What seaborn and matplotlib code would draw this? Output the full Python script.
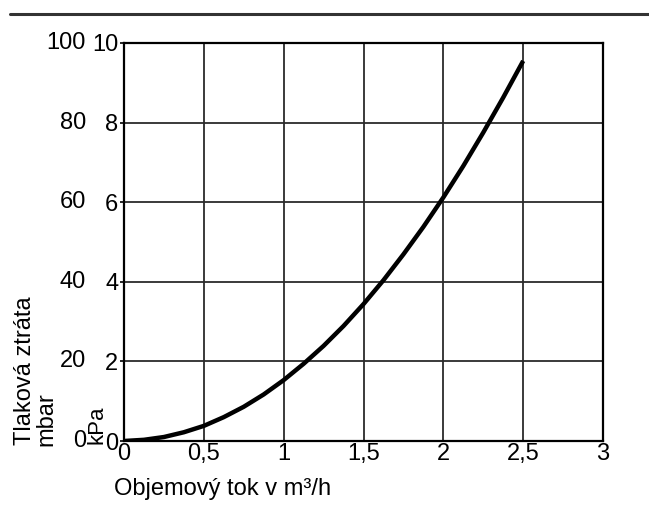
import matplotlib
matplotlib.use("Agg")
import matplotlib.pyplot as plt
from matplotlib.lines import Line2D
import seaborn as sns
import pandas as pd

# Pressure loss curve (kPa) versus volume flow (m³/h)
flow = [0.0, 0.125, 0.25, 0.375, 0.5, 0.625, 0.75, 0.875, 1.0, 1.125, 1.25,
        1.375, 1.5, 1.625, 1.75, 1.875, 2.0, 2.125, 2.25, 2.375, 2.5]
loss_kpa = [0.0, 0.03, 0.1, 0.22, 0.38, 0.6, 0.86, 1.17, 1.53, 1.94, 2.39,
            2.89, 3.44, 4.04, 4.69, 5.38, 6.12, 6.91, 7.75, 8.63, 9.55]

x_ticks = [0, 0.5, 1, 1.5, 2, 2.5, 3]
x_labels = ["0", "0,5", "1", "1,5", "2", "2,5", "3"]
kpa_ticks = [0, 2, 4, 6, 8, 10]
mbar_labels = ["0", "20", "40", "60", "80", "100"]

df = pd.DataFrame({"flow": flow, "loss": loss_kpa})

sns.set_theme(style="white")
plt.rcParams["font.family"] = ["Liberation Sans", "DejaVu Sans"]

FS = 17
W, H = 649, 518
fig = plt.figure(figsize=(W / 100, H / 100), dpi=100)
ax = fig.add_axes([124 / W, 1 - 441 / H, (603 - 124) / W, (441 - 43) / H])

sns.lineplot(data=df, x="flow", y="loss", ax=ax, color="black", lw=3.2,
             solid_capstyle="butt")

ax.set_xlim(0, 3)
ax.set_ylim(0, 10)
ax.set_xticks(x_ticks)
ax.set_xticklabels(x_labels, fontsize=FS)
ax.set_yticks(kpa_ticks)
ax.set_yticklabels([str(v) for v in kpa_ticks], fontsize=FS)
ax.tick_params(axis="x", length=0, pad=1.5, colors="black")
ax.tick_params(axis="y", length=3, width=1.2, pad=1, colors="black",
               direction="out", left=True)
ax.grid(True, color="#2b2b2b", lw=1.3)
for s in ax.spines.values():
    s.set_color("black")
    s.set_linewidth(1.6)
ax.set_xlabel("")
ax.set_ylabel("")

# mbar column to the left of the kPa scale
for v, lab in zip(kpa_ticks, mbar_labels):
    ax.annotate(lab, xy=(0, v), xycoords="data", xytext=(86 - 124, 0),
                textcoords="offset pixels", ha="right", va="center",
                fontsize=FS, color="black")

fig.text(114 / W, 1 - 495 / H, "Objemový tok v m³/h", ha="left",
         va="baseline", fontsize=FS, color="black")
fig.text(31 / W, 1 - 445 / H, "Tlaková ztráta", rotation=90,
         rotation_mode="anchor", ha="left", va="baseline", fontsize=FS,
         color="black")
fig.text(52 / W, 1 - 446 / H, "mbar", rotation=90, rotation_mode="anchor",
         ha="left", va="baseline", fontsize=FS, color="black")
fig.text(103 / W, 1 - 444 / H, "kPa", rotation=90, rotation_mode="anchor",
         ha="left", va="baseline", fontsize=16, color="black")

fig.add_artist(Line2D([10 / W, 1.0], [1 - 14 / H, 1 - 14 / H],
                      transform=fig.transFigure, color="#333333", lw=2.2))

fig.savefig("out.png", dpi=100)
